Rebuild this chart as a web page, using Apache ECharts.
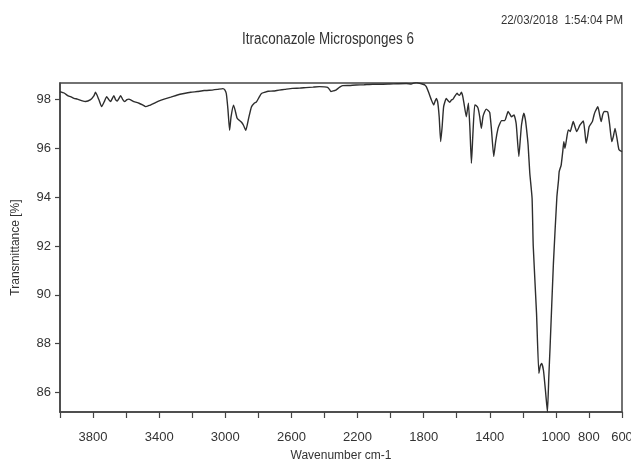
<!DOCTYPE html>
<html>
<head>
<meta charset="utf-8">
<title>Itraconazole Microsponges 6</title>
<script src="https://cdn.jsdelivr.net/npm/echarts@6.0.0/dist/echarts.min.js"></script>
<style>
  html, body { margin: 0; padding: 0; background: #ffffff; }
  #chart { width: 631px; height: 463px; }
</style>
</head>
<body>
<div id="chart"></div>
<script>
// FTIR spectrum: wavenumber (cm-1) and transmittance (%)
const wavenumbers = [
  4000, 3975, 3950, 3936, 3915, 3895, 3870, 3845, 3815, 3795, 3785, 3765, 3748, 3730, 3718, 3705,
  3694, 3674, 3664, 3654, 3643, 3633, 3620, 3609, 3595, 3583, 3570, 3553, 3522, 3500, 3482, 3460,
  3431, 3400, 3370, 3330, 3290, 3250, 3209, 3170, 3128, 3097, 3047, 3014, 3003, 2994, 2984, 2974,
  2965, 2950, 2940, 2929, 2915, 2903, 2890, 2876, 2860, 2842, 2825, 2812, 2795, 2781, 2760, 2741,
  2710, 2675, 2640, 2594, 2550, 2513, 2470, 2431, 2400, 2381, 2370, 2361, 2345, 2331, 2310, 2290,
  2250, 2209, 2160, 2108, 2060, 2007, 1960, 1905, 1875, 1860, 1844, 1824, 1800, 1793, 1784, 1770,
  1753, 1739, 1730, 1723, 1715, 1706, 1697, 1688, 1679, 1663, 1652, 1642, 1632, 1622, 1610, 1598,
  1590, 1582, 1572, 1564, 1556, 1542, 1535, 1529, 1520, 1511, 1502, 1491, 1481, 1471, 1461, 1451,
  1441, 1431, 1421, 1410, 1400, 1390, 1376, 1364, 1350, 1340, 1329, 1309, 1300, 1289, 1278, 1269,
  1253, 1240, 1224, 1215, 1208, 1194, 1185, 1178, 1168, 1158, 1144, 1137, 1117, 1103, 1094, 1086,
  1075, 1062, 1051, 1043, 1035, 1015, 994, 984, 980, 968, 958, 952, 945, 935, 925, 913,
  904, 895, 885, 874, 854, 834, 825, 817, 808, 799, 779, 770, 762, 746, 736, 726,
  716, 706, 687, 675, 662, 652, 642, 630, 618, 600
];
const transmittance = [
  98.33, 98.27, 98.15, 98.12, 98.05, 98.02, 97.96, 97.92, 98.00, 98.15, 98.30, 98.00, 97.71, 97.95, 98.12, 98.00,
  97.92, 98.16, 98.00, 97.94, 98.05, 98.16, 98.00, 97.92, 98.00, 98.02, 97.98, 97.92, 97.85, 97.78, 97.71, 97.76,
  97.85, 97.95, 98.02, 98.10, 98.19, 98.25, 98.30, 98.33, 98.37, 98.38, 98.42, 98.45, 98.40, 98.25, 97.60, 96.74,
  97.30, 97.77, 97.55, 97.25, 97.15, 97.08, 96.95, 96.74, 97.20, 97.70, 97.85, 97.90, 98.10, 98.25, 98.30, 98.34,
  98.35, 98.39, 98.42, 98.46, 98.47, 98.49, 98.51, 98.53, 98.52, 98.50, 98.42, 98.33, 98.36, 98.39, 98.50, 98.57,
  98.58, 98.60, 98.61, 98.63, 98.63, 98.64, 98.65, 98.66, 98.64, 98.68, 98.70, 98.67, 98.62, 98.60, 98.53, 98.30,
  97.98, 97.78, 97.95, 98.05, 97.90, 97.30, 96.28, 96.90, 97.71, 98.05, 97.95, 97.89, 97.98, 98.02, 98.15, 98.26,
  98.20, 98.18, 98.30, 98.15, 97.85, 97.30, 97.60, 97.85, 96.80, 95.39, 96.60, 97.78, 97.75, 97.65, 97.30, 96.82,
  97.30, 97.50, 97.61, 97.55, 97.47, 96.80, 95.67, 96.30, 96.82, 97.00, 97.14, 97.14, 97.30, 97.51, 97.40, 97.30,
  97.37, 97.00, 95.67, 96.40, 96.96, 97.44, 97.20, 96.82, 96.14, 95.00, 93.96, 92.00, 89.23, 86.78, 87.10, 87.19,
  86.90, 86.00, 85.20, 86.60, 87.87, 91.28, 94.01, 94.70, 95.05, 95.32, 95.90, 96.28, 96.00, 96.40, 96.76, 96.69,
  96.90, 97.10, 96.90, 96.69, 96.96, 97.12, 96.70, 96.21, 96.50, 96.89, 97.10, 97.35, 97.51, 97.71, 97.40, 97.10,
  97.40, 97.51, 97.50, 97.00, 96.28, 96.50, 96.82, 96.40, 95.94, 95.87
];

// Tick labels
const xTickLabels = [3800, 3400, 3000, 2600, 2200, 1800, 1400, 1000, 800, 600];
const yTickLabels = [86, 88, 90, 92, 94, 96, 98];

const titleText = 'Itraconazole Microsponges 6';
const stampText = '22/03/2018  1:54:04 PM';
const xName = 'Wavenumber cm-1';
const yName = 'Transmittance [%]';

const FONT = "'Liberation Sans', Arial, sans-serif";
const INK = '#333333';

const points = wavenumbers.map((w, i) => [w, transmittance[i]]);

const chart = echarts.init(document.getElementById('chart'), null, { renderer: 'canvas' });

chart.setOption({
  backgroundColor: '#ffffff',
  animation: false,
  // Heading and timestamp, horizontally condensed
  graphic: [
    {
      type: 'text',
      x: 328,
      y: 40,
      scaleX: 0.84,
      style: {
        text: titleText,
        font: "16px 'Liberation Sans', Arial, sans-serif",
        fill: INK,
        align: 'center',
        verticalAlign: 'middle'
      }
    },
    {
      type: 'text',
      x: 623,
      y: 20.5,
      scaleX: 0.88,
      style: {
        text: stampText,
        font: "13px 'Liberation Sans', Arial, sans-serif",
        fill: INK,
        align: 'right',
        verticalAlign: 'middle'
      }
    }
  ],
  grid: {
    left: 60,
    right: 9,
    top: 83,
    bottom: 51,
    outerBoundsMode: 'none',
    containLabel: false,
    show: true,
    borderColor: '#444444',
    borderWidth: 1.5,
    backgroundColor: 'transparent'
  },
  xAxis: {
    type: 'value',
    inverse: true,
    min: 600,
    max: 4000,
    interval: 200,
    name: xName,
    nameLocation: 'middle',
    nameGap: 38,
    nameTextStyle: { fontFamily: FONT, fontSize: 12, color: INK },
    axisLine: { show: true, lineStyle: { color: '#444444', width: 1.5 } },
    axisTick: { show: true, inside: false, length: 6, lineStyle: { color: '#444444', width: 1.2 } },
    axisLabel: {
      customValues: xTickLabels,
      formatter: (v) => String(v),
      margin: 19,
      fontFamily: FONT,
      fontSize: 13,
      color: INK
    },
    splitLine: { show: false }
  },
  yAxis: {
    type: 'value',
    min: 85.2,
    max: 98.68,
    name: yName,
    nameLocation: 'middle',
    nameGap: 38,
    nameTextStyle: { fontFamily: FONT, fontSize: 12, color: INK },
    axisLine: { show: true, lineStyle: { color: '#444444', width: 1.5 } },
    axisTick: { show: true, inside: false, length: 5, customValues: yTickLabels, lineStyle: { color: '#444444', width: 1.2 } },
    axisLabel: {
      customValues: yTickLabels,
      formatter: (v) => String(v),
      margin: 9,
      fontFamily: FONT,
      fontSize: 13,
      color: INK
    },
    splitLine: { show: false }
  },
  series: [
    {
      type: 'line',
      data: points,
      showSymbol: false,
      smooth: 0.15,
      clip: true,
      lineStyle: { color: '#2e2e2e', width: 1.4 }
    }
  ]
});
</script>
</body>
</html>
